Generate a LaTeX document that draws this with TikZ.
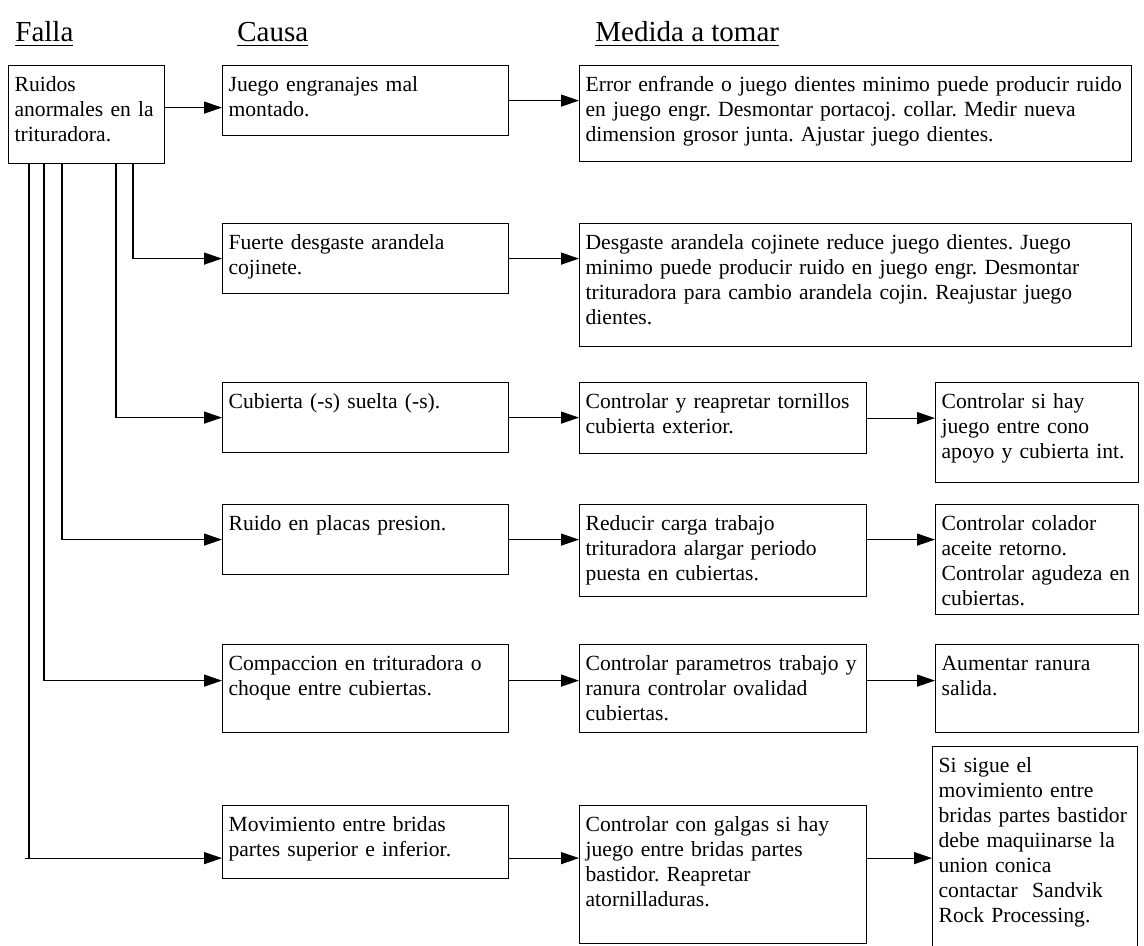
\documentclass[tikz,border=0pt]{standalone}
\usepackage{fontspec}
\setmainfont{Liberation Serif}
\usepackage{tikz}
\usetikzlibrary{arrows.meta,calc}
\frenchspacing
\hyphenpenalty=10000

\tikzset{
  box/.style={draw, line width=0.6pt, anchor=north west, align=left,
    inner xsep=3pt, inner ysep=0pt, text height=13pt,
    font=\fontsize{10.8}{12.5}\selectfont},
  head/.style={anchor=base west, inner sep=0pt,
    font=\fontsize{14.5}{16}\selectfont},
  link/.style={line width=0.6pt},
  arr/.style={link, -{Triangle[length=9pt,width=6pt]}}
}

\begin{document}
\begin{tikzpicture}[x=0.5pt,y=-0.5pt]
    \useasboundingbox (0,0) rectangle (1144,946);

    % column heads
    \node[head] (hFalla) at (15,42) {\underline{Falla}};
    \node[head] (hCausa) at (237,42) {\underline{Causa}};
    \node[head] (hMedida) at (595,42) {\underline{Medida a tomar}};

    % the fault
    \node[box, text width=72pt, text depth=36pt] (falla) at (8,65)
        {Ruidos\\anormales en la\\trituradora.};

    % row 1
    \node[box, text width=137pt, text depth=22pt] (c1) at (222,65)
        {Juego engranajes mal\\montado.};
    \node[box, text width=270pt, text depth=35pt] (m1) at (579,65)
        {Error enfrande o juego dientes minimo puede producir ruido\\
         en juego engr. Desmontar portacoj. collar. Medir nueva\\
         dimension grosor junta. Ajustar juego dientes.};

    % row 2
    \node[box, text width=137pt, text depth=22pt] (c2) at (222,223)
        {Fuerte desgaste arandela\\cojinete.};
    \node[box, text width=270pt, text depth=48.5pt] (m2) at (579,223)
        {Desgaste arandela cojinete reduce juego dientes. Juego\\
         minimo puede producir ruido en juego engr. Desmontar\\
         trituradora para cambio arandela cojin. Reajustar juego\\
         dientes.};

    % row 3
    \node[box, text width=137pt, text depth=22pt] (c3) at (222,382)
        {Cubierta (-s) suelta (-s).};
    \node[box, text width=137.5pt, text depth=22.5pt] (a3) at (579,382)
        {Controlar y reapretar tornillos\\cubierta exterior.};
    \node[box, text width=95.5pt, text depth=37pt] (b3) at (935,382)
        {Controlar si hay\\juego entre cono\\apoyo y cubierta int.};

    % row 4
    \node[box, text width=137pt, text depth=22pt] (c4) at (222,504)
        {Ruido en placas presion.};
    \node[box, text width=137.5pt, text depth=33pt] (a4) at (579,504)
        {Reducir carga trabajo\\trituradora alargar periodo\\puesta en cubiertas.};
    \node[box, text width=95.5pt, text depth=42pt] (b4) at (935,504)
        {Controlar colador\\aceite retorno.\\Controlar agudeza en\\cubiertas.};

    % row 5
    \node[box, text width=137pt, text depth=31pt] (c5) at (222,644)
        {Compaccion en trituradora o\\choque entre cubiertas.};
    \node[box, text width=137.5pt, text depth=31pt] (a5) at (579,644)
        {Controlar parametros trabajo y\\ranura controlar ovalidad\\cubiertas.};
    \node[box, text width=95.5pt, text depth=31pt] (b5) at (935,644)
        {Aumentar ranura\\salida.};

    % row 6
    \node[box, text width=137pt, text depth=23.5pt] (c6) at (222,805)
        {Movimiento entre bridas\\partes superior e inferior.};
    \node[box, text width=137.5pt, text depth=56pt] (a6) at (579,805)
        {Controlar con galgas si hay\\juego entre bridas partes\\bastidor. Reapretar\\atornilladuras.};
    \node[box, text width=96.5pt, text depth=89pt] (b6) at (932,746)
        {Si sigue el\\movimiento entre\\bridas partes bastidor\\debe maquiinarse la\\union conica\\contactar~ Sandvik\\Rock Processing.};

    % branch points under the fault box
    \coordinate (k1) at ([yshift=-3.5pt]c1.west);
    \coordinate (k5) at ([yshift=4pt]c5.west);
    \coordinate (k6) at ([yshift=-8pt]c6.west);
    \coordinate (v2) at ([xshift=62.5pt]falla.south west);
    \coordinate (v3) at ([xshift=54pt]falla.south west);
    \coordinate (v4) at ([xshift=27pt]falla.south west);
    \coordinate (v5) at ([xshift=18pt]falla.south west);
    \coordinate (v6) at ([xshift=10.5pt]falla.south west);
    \coordinate (h6) at ([xshift=8.5pt]falla.south west);

    % fault -> causes
    \draw[arr] (falla.east |- k1) -- (k1);
    \draw[arr] (v2) |- (c2.west);
    \draw[arr] (v3) |- (c3.west);
    \draw[arr] (v4) |- (c4.west);
    \draw[arr] (v5) |- (k5);
    \draw[link] (v6) -- (v6 |- k6);
    \draw[arr] (h6 |- k6) -- (k6);

    % causes -> measures
    \draw[arr] (c1.east) -- (c1.east -| m1.west);
    \draw[arr] (c2.east) -- (c2.east -| m2.west);
    \draw[arr] (c3.east) -- (c3.east -| a3.west);
    \draw[arr] (a3.east) -- (a3.east -| b3.west);
    \draw[arr] (c4.east) -- (c4.east -| a4.west);
    \draw[arr] (a4.east |- c4.east) -- (b4.west |- c4.east);
    \draw[arr] (c5.east |- k5) -- (a5.west |- k5);
    \draw[arr] (a5.east |- k5) -- (b5.west |- k5);
    \draw[arr] (c6.east |- k6) -- (a6.west |- k6);
    \draw[arr] (a6.east |- k6) -- (b6.west |- k6);
\end{tikzpicture}
\end{document}
